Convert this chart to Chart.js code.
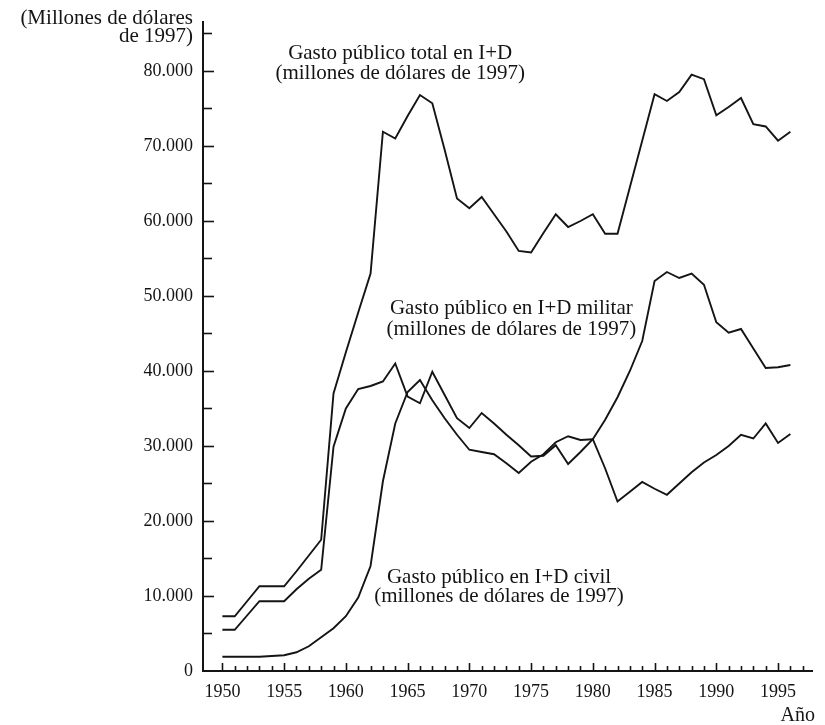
<!DOCTYPE html>
<html><head><meta charset="utf-8">
<script src="https://cdn.jsdelivr.net/npm/chart.js@4.4.1/dist/chart.umd.min.js"></script>
<style>html,body{margin:0;padding:0;background:#fff}canvas{display:block}</style>
</head><body>
<canvas id="c" width="825" height="725"></canvas>
<script>
// ---- data (millones de dólares de 1997) ----
const years = [1950,1951,1952,1953,1954,1955,1956,1957,1958,1959,
               1960,1961,1962,1963,1964,1965,1966,1967,1968,1969,
               1970,1971,1972,1973,1974,1975,1976,1977,1978,1979,
               1980,1981,1982,1983,1984,1985,1986,1987,1988,1989,
               1990,1991,1992,1993,1994,1995,1996];
const totalRD = [7300,7300,9300,11300,11300,11300,13300,15400,17500,37000,
                 42500,47800,53000,71900,71000,74000,76800,75700,69500,63000,
                 61700,63200,60900,58600,56000,55800,58400,60900,59200,60000,
                 60900,58300,58300,64500,70700,76900,76000,77200,79500,78900,
                 74100,75200,76400,72900,72600,70700,71900];
const militaryRD = [5500,5500,7400,9300,9300,9300,10900,12300,13500,29900,
                    35000,37600,38000,38600,41000,36600,35700,39900,36800,33700,
                    32400,34400,33000,31500,30100,28600,28700,30100,27600,29200,
                    30900,33500,36500,40000,44000,52000,53200,52400,53000,51500,
                    46500,45100,45600,43000,40400,40500,40800];
const civilRD = [1900,1900,1900,1900,2000,2100,2500,3300,4500,5700,
                 7300,9800,14000,25300,33000,37200,38800,36100,33700,31500,
                 29500,29200,28900,27700,26400,27900,28900,30500,31300,30800,
                 30900,27000,22600,23900,25200,24300,23500,25000,26500,27800,
                 28800,30000,31500,31000,33000,30400,31600];

// ---- ticks ----
const yTickLabels = [0,10000,20000,30000,40000,50000,60000,70000,80000];
const yMinorTicks = [5000,15000,25000,35000,45000,55000,65000,75000,85000];
const xTickLabels = [1950,1955,1960,1965,1970,1975,1980,1985,1990,1995];
const xMinorTicks = [1951,1952,1953,1954,1956,1957,1958,1959,1961,1962,1963,1964,
                     1966,1967,1968,1969,1971,1972,1973,1974,1976,1977,1978,1979,
                     1981,1982,1983,1984,1986,1987,1988,1989,1991,1992,1993,1994,
                     1996,1997];

// ---- texts ----
const yAxisTitle = ['(Millones de dólares', 'de 1997)'];
const xAxisTitle = 'Año';
const seriesNotes = [
  {lines: ['Gasto público total en I+D', '(millones de dólares de 1997)'], year: 1964.4, values: [82300, 79700]},
  {lines: ['Gasto público en I+D militar', '(millones de dólares de 1997)'], year: 1973.4, values: [48400, 45500]},
  {lines: ['Gasto público en I+D civil', '(millones de dólares de 1997)'], year: 1972.4, values: [12500, 9900]}
];

const INK = '#141414';
const SERIF = '"Liberation Serif", "Times New Roman", serif';

function fmt(v) { return v === 0 ? '0' : (v / 1000) + '.000'; }

const decor = {
  id: 'decor',
  afterDraw(chart) {
    const {ctx, chartArea: a, scales: {x, y}} = chart;
    ctx.save();
    ctx.strokeStyle = INK;
    ctx.lineWidth = 1.6;
    yTickLabels.concat(yMinorTicks).forEach(v => {
      if (v === 0) return;
      const py = Math.round(y.getPixelForValue(v)) + 0.5;
      const len = yTickLabels.includes(v) ? 11 : 9;
      ctx.beginPath(); ctx.moveTo(a.left, py); ctx.lineTo(a.left + len, py); ctx.stroke();
    });
    xTickLabels.concat(xMinorTicks).forEach(v => {
      const px = Math.round(x.getPixelForValue(v)) + 0.5;
      const len = xTickLabels.includes(v) ? 8 : 5;
      ctx.beginPath(); ctx.moveTo(px, a.bottom); ctx.lineTo(px, a.bottom - len); ctx.stroke();
    });
    ctx.fillStyle = INK;
    ctx.font = '21px ' + SERIF;
    ctx.textAlign = 'center';
    ctx.textBaseline = 'middle';
    seriesNotes.forEach(n => {
      n.lines.forEach((t, i) => ctx.fillText(t, x.getPixelForValue(n.year), y.getPixelForValue(n.values[i])));
    });
    ctx.textAlign = 'right';
    ctx.fillText(yAxisTitle[0], a.left - 10, a.top - 4);
    ctx.fillText(yAxisTitle[1], a.left - 10, a.top + 14);
    ctx.font = '20px ' + SERIF;
    ctx.fillText(xAxisTitle, a.right + 3, a.bottom + 45);
    ctx.restore();
  }
};

const mk = (data) => ({
  data: years.map((yr, i) => ({x: yr, y: data[i]})),
  borderColor: INK, borderWidth: 1.9, pointRadius: 0, tension: 0, fill: false
});

new Chart(document.getElementById('c'), {
  type: 'line',
  data: {datasets: [mk(totalRD), mk(militaryRD), mk(civilRD)]},
  options: {
    responsive: false, animation: false, devicePixelRatio: 1,
    layout: {padding: {top: 22, right: 13, bottom: 0, left: 0}},
    plugins: {legend: {display: false}, tooltip: {enabled: false}},
    scales: {
      x: {
        type: 'linear', min: 1948.43, max: 1997.75,
        afterBuildTicks: s => { s.ticks = xTickLabels.map(v => ({value: v})); },
        afterFit: s => { s.height = 54; },
        grid: {display: false, drawTicks: false},
        border: {display: true, color: INK, width: 2},
        ticks: {autoSkip: false, maxRotation: 0, padding: 10, color: INK,
                font: {family: SERIF, size: 18}, callback: v => String(v)}
      },
      y: {
        type: 'linear', min: 0, max: 86530,
        afterBuildTicks: s => { s.ticks = yTickLabels.map(v => ({value: v})); },
        afterFit: s => { s.width = 203; },
        grid: {display: false, drawTicks: false},
        border: {display: true, color: INK, width: 2},
        ticks: {autoSkip: false, padding: 10, color: INK,
                font: {family: SERIF, size: 18}, callback: v => fmt(v)}
      }
    }
  },
  plugins: [decor]
});
</script>
</body></html>
